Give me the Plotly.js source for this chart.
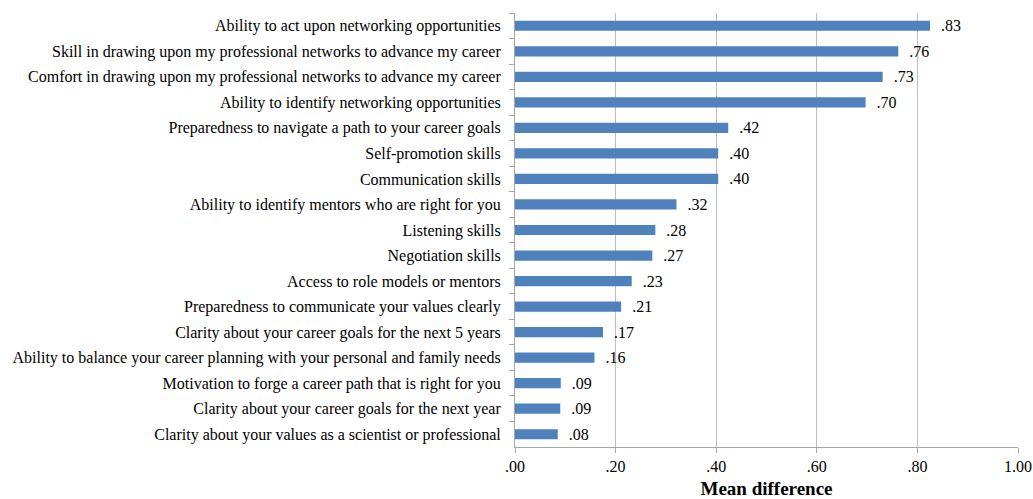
<!DOCTYPE html>
<html><head><meta charset="utf-8">
<script src="https://cdn.plot.ly/plotly-3.0.1.min.js"></script>
<style>body{margin:0;background:#fff}#c{width:1033px;height:499px}</style>
</head><body><div id="c"></div>
<script>
const categories = [
  "Ability to act upon networking opportunities",
  "Skill in drawing upon my professional networks to advance my career",
  "Comfort in drawing upon my professional networks to advance my career",
  "Ability to identify networking opportunities",
  "Preparedness to navigate a path to your career goals",
  "Self-promotion skills",
  "Communication skills",
  "Ability to identify mentors who are right for you",
  "Listening skills",
  "Negotiation skills",
  "Access to role models or mentors",
  "Preparedness to communicate your values clearly",
  "Clarity about your career goals for the next 5 years",
  "Ability to balance your career planning with your personal and family needs",
  "Motivation to forge a career path that is right for you",
  "Clarity about your career goals for the next year",
  "Clarity about your values as a scientist or professional"
];
const values = [0.825, 0.762, 0.731, 0.697, 0.424, 0.404, 0.404, 0.321, 0.279, 0.273, 0.232, 0.211, 0.175, 0.158, 0.091, 0.090, 0.085];
const valueLabels = [".83", ".76", ".73", ".70", ".42", ".40", ".40", ".32", ".28", ".27", ".23", ".21", ".17", ".16", ".09", ".09", ".08"];
const tickVals = [0, 0.2, 0.4, 0.6, 0.8, 1.0];
const tickText = [".00", ".20", ".40", ".60", ".80", "1.00"];

const font = "Liberation Serif";
Plotly.newPlot("c", [{
  type: "bar", orientation: "h",
  y: categories, x: values,
  marker: {color: "#4F81BD"},
  text: valueLabels.map(t => "  " + t),
  textposition: "outside",
  constraintext: "none",
  textfont: {family: font, size: 16, color: "#000"},
  cliponaxis: false,
  hoverinfo: "skip"
}], {
  width: 1033, height: 499,
  margin: {l: 515, r: 15, t: 13, b: 52},
  paper_bgcolor: "#fff", plot_bgcolor: "#fff",
  bargap: 0.6,
  showlegend: false,
  font: {family: font, color: "#000"},
  xaxis: {
    range: [0, 1], tickvals: tickVals, ticktext: tickText,
    showgrid: true, gridcolor: "#BEBEBE", gridwidth: 1,
    showline: true, linecolor: "#A6A6A6", linewidth: 1,
    ticks: "outside", ticklen: 5, tickcolor: "#A6A6A6",
    tickfont: {family: font, size: 16, color: "#000"},
    zeroline: false, fixedrange: true,
    title: {text: "<b>Mean difference</b>", font: {family: font, size: 19, color: "#000"}, standoff: 8}
  },
  yaxis: {
    autorange: "reversed",
    showline: true, linecolor: "#A6A6A6", linewidth: 1,
    showgrid: false, zeroline: false,
    ticks: "outside", ticklen: 5, tickcolor: "#A6A6A6",
    tickson: "boundaries",
    ticklabelstandoff: 10,
    tickfont: {family: font, size: 16, color: "#000"},
    fixedrange: true
  }
}, {displayModeBar: false, staticPlot: true});
</script></body></html>
